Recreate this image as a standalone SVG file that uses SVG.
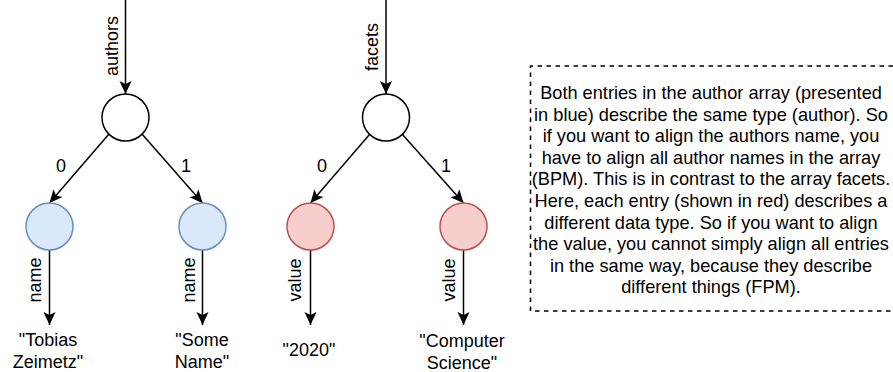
<svg xmlns="http://www.w3.org/2000/svg" width="893" height="372" viewBox="0 0 893 372" overflow="hidden">
<defs>
<marker id="arr" markerUnits="userSpaceOnUse" markerWidth="16" markerHeight="16" viewBox="-14 -8 16 16" refX="0" refY="0" orient="auto">
<path d="M0,0 L-13,-6 L-10,0 L-13,6 Z" fill="#000"/>
</marker>
<style>
text{font-family:"Liberation Sans",Arial,Helvetica,sans-serif;font-size:18px;fill:#000}
.c{text-anchor:middle}
.n{font-size:18.2px}
.e{fill:none;stroke:#000;stroke-width:1.5;marker-end:url(#arr)}
.root{fill:#fff;stroke:#000;stroke-width:1.5}
.blue{fill:#dae8fc;stroke:#6c8ebf;stroke-width:1.5}
.red{fill:#f8cecc;stroke:#b85450;stroke-width:1.5}
.lbl{text-anchor:middle;dominant-baseline:central}
</style>
</defs>
<rect width="893" height="372" fill="#fff"/>
<g id="connectors">
<line class="e" x1="125.5" y1="0" x2="125.5" y2="94"/>
<line class="e" x1="109" y1="134" x2="49.5" y2="203"/>
<line class="e" x1="142" y1="134" x2="202.5" y2="203"/>
<line class="e" x1="49.5" y1="250" x2="49.5" y2="325"/>
<line class="e" x1="202.5" y1="250" x2="202.5" y2="325"/>
<line class="e" x1="386" y1="0" x2="386" y2="94"/>
<line class="e" x1="369.5" y1="134.5" x2="310.5" y2="203"/>
<line class="e" x1="402.5" y1="134.5" x2="463.5" y2="203"/>
<line class="e" x1="310.5" y1="250" x2="310.5" y2="325"/>
<line class="e" x1="463.5" y1="250" x2="463.5" y2="325"/>
<text class="lbl" transform="translate(112,46) rotate(-90)">authors</text>
<text class="lbl" transform="translate(372,47) rotate(-90)">facets</text>
<text class="lbl" x="61" y="166">0</text>
<text class="lbl" x="186" y="166">1</text>
<text class="lbl" x="322" y="166">0</text>
<text class="lbl" x="446" y="166">1</text>
<text class="lbl" transform="translate(35,280) rotate(-90)">name</text>
<text class="lbl" transform="translate(189,280) rotate(-90)">name</text>
<text class="lbl" transform="translate(295,280) rotate(-90)">value</text>
<text class="lbl" transform="translate(449,280) rotate(-90)">value</text>
</g>
<g id="authors-node"><circle class="root" cx="125.5" cy="117.5" r="23.5"/></g>
<g id="facets-node"><circle class="root" cx="386" cy="117.5" r="23.5"/></g>
<g id="author-0"><circle class="blue" cx="49.5" cy="226.5" r="23.5"/></g>
<g id="author-1"><circle class="blue" cx="202.5" cy="226.5" r="23.5"/></g>
<g id="facet-0"><circle class="red" cx="310.5" cy="226.5" r="23.5"/></g>
<g id="facet-1"><circle class="red" cx="463.5" cy="226.5" r="23.5"/></g>
<g id="val-tobias"><text class="c" x="48" y="346">"Tobias</text><text class="c" x="48" y="367.5">Zeimetz"</text></g>
<g id="val-some"><text class="c" x="202" y="346">"Some</text><text class="c" x="202" y="367.5">Name"</text></g>
<g id="val-2020"><text class="c" x="309" y="356">"2020"</text></g>
<g id="val-cs"><text class="c" x="462" y="347">"Computer</text><text class="c" x="462" y="368.5">Science"</text></g>
<g id="note">
<path d="M893,66 H530.5 V311 H893" fill="none" stroke="#000" stroke-width="1.5" stroke-dasharray="4.5 4.5"/>
<text class="c n" x="711" y="99">Both entries in the author array (presented</text>
<text class="c n" x="711" y="120.6">in blue) describe the same type (author). So</text>
<text class="c n" x="711" y="142.2">if you want to align the authors name, you</text>
<text class="c n" x="711" y="163.8">have to align all author names in the array</text>
<text class="c n" x="711" y="185.4">(BPM). This is in contrast to the array facets.</text>
<text class="c n" x="711" y="207">Here, each entry (shown in red) describes a</text>
<text class="c n" x="711" y="228.6">different data type. So if you want to align</text>
<text class="c n" x="711" y="250.2">the value, you cannot simply align all entries</text>
<text class="c n" x="711" y="271.8">in the same way, because they describe</text>
<text class="c n" x="711" y="293.4">different things (FPM).</text>
</g>
</svg>
